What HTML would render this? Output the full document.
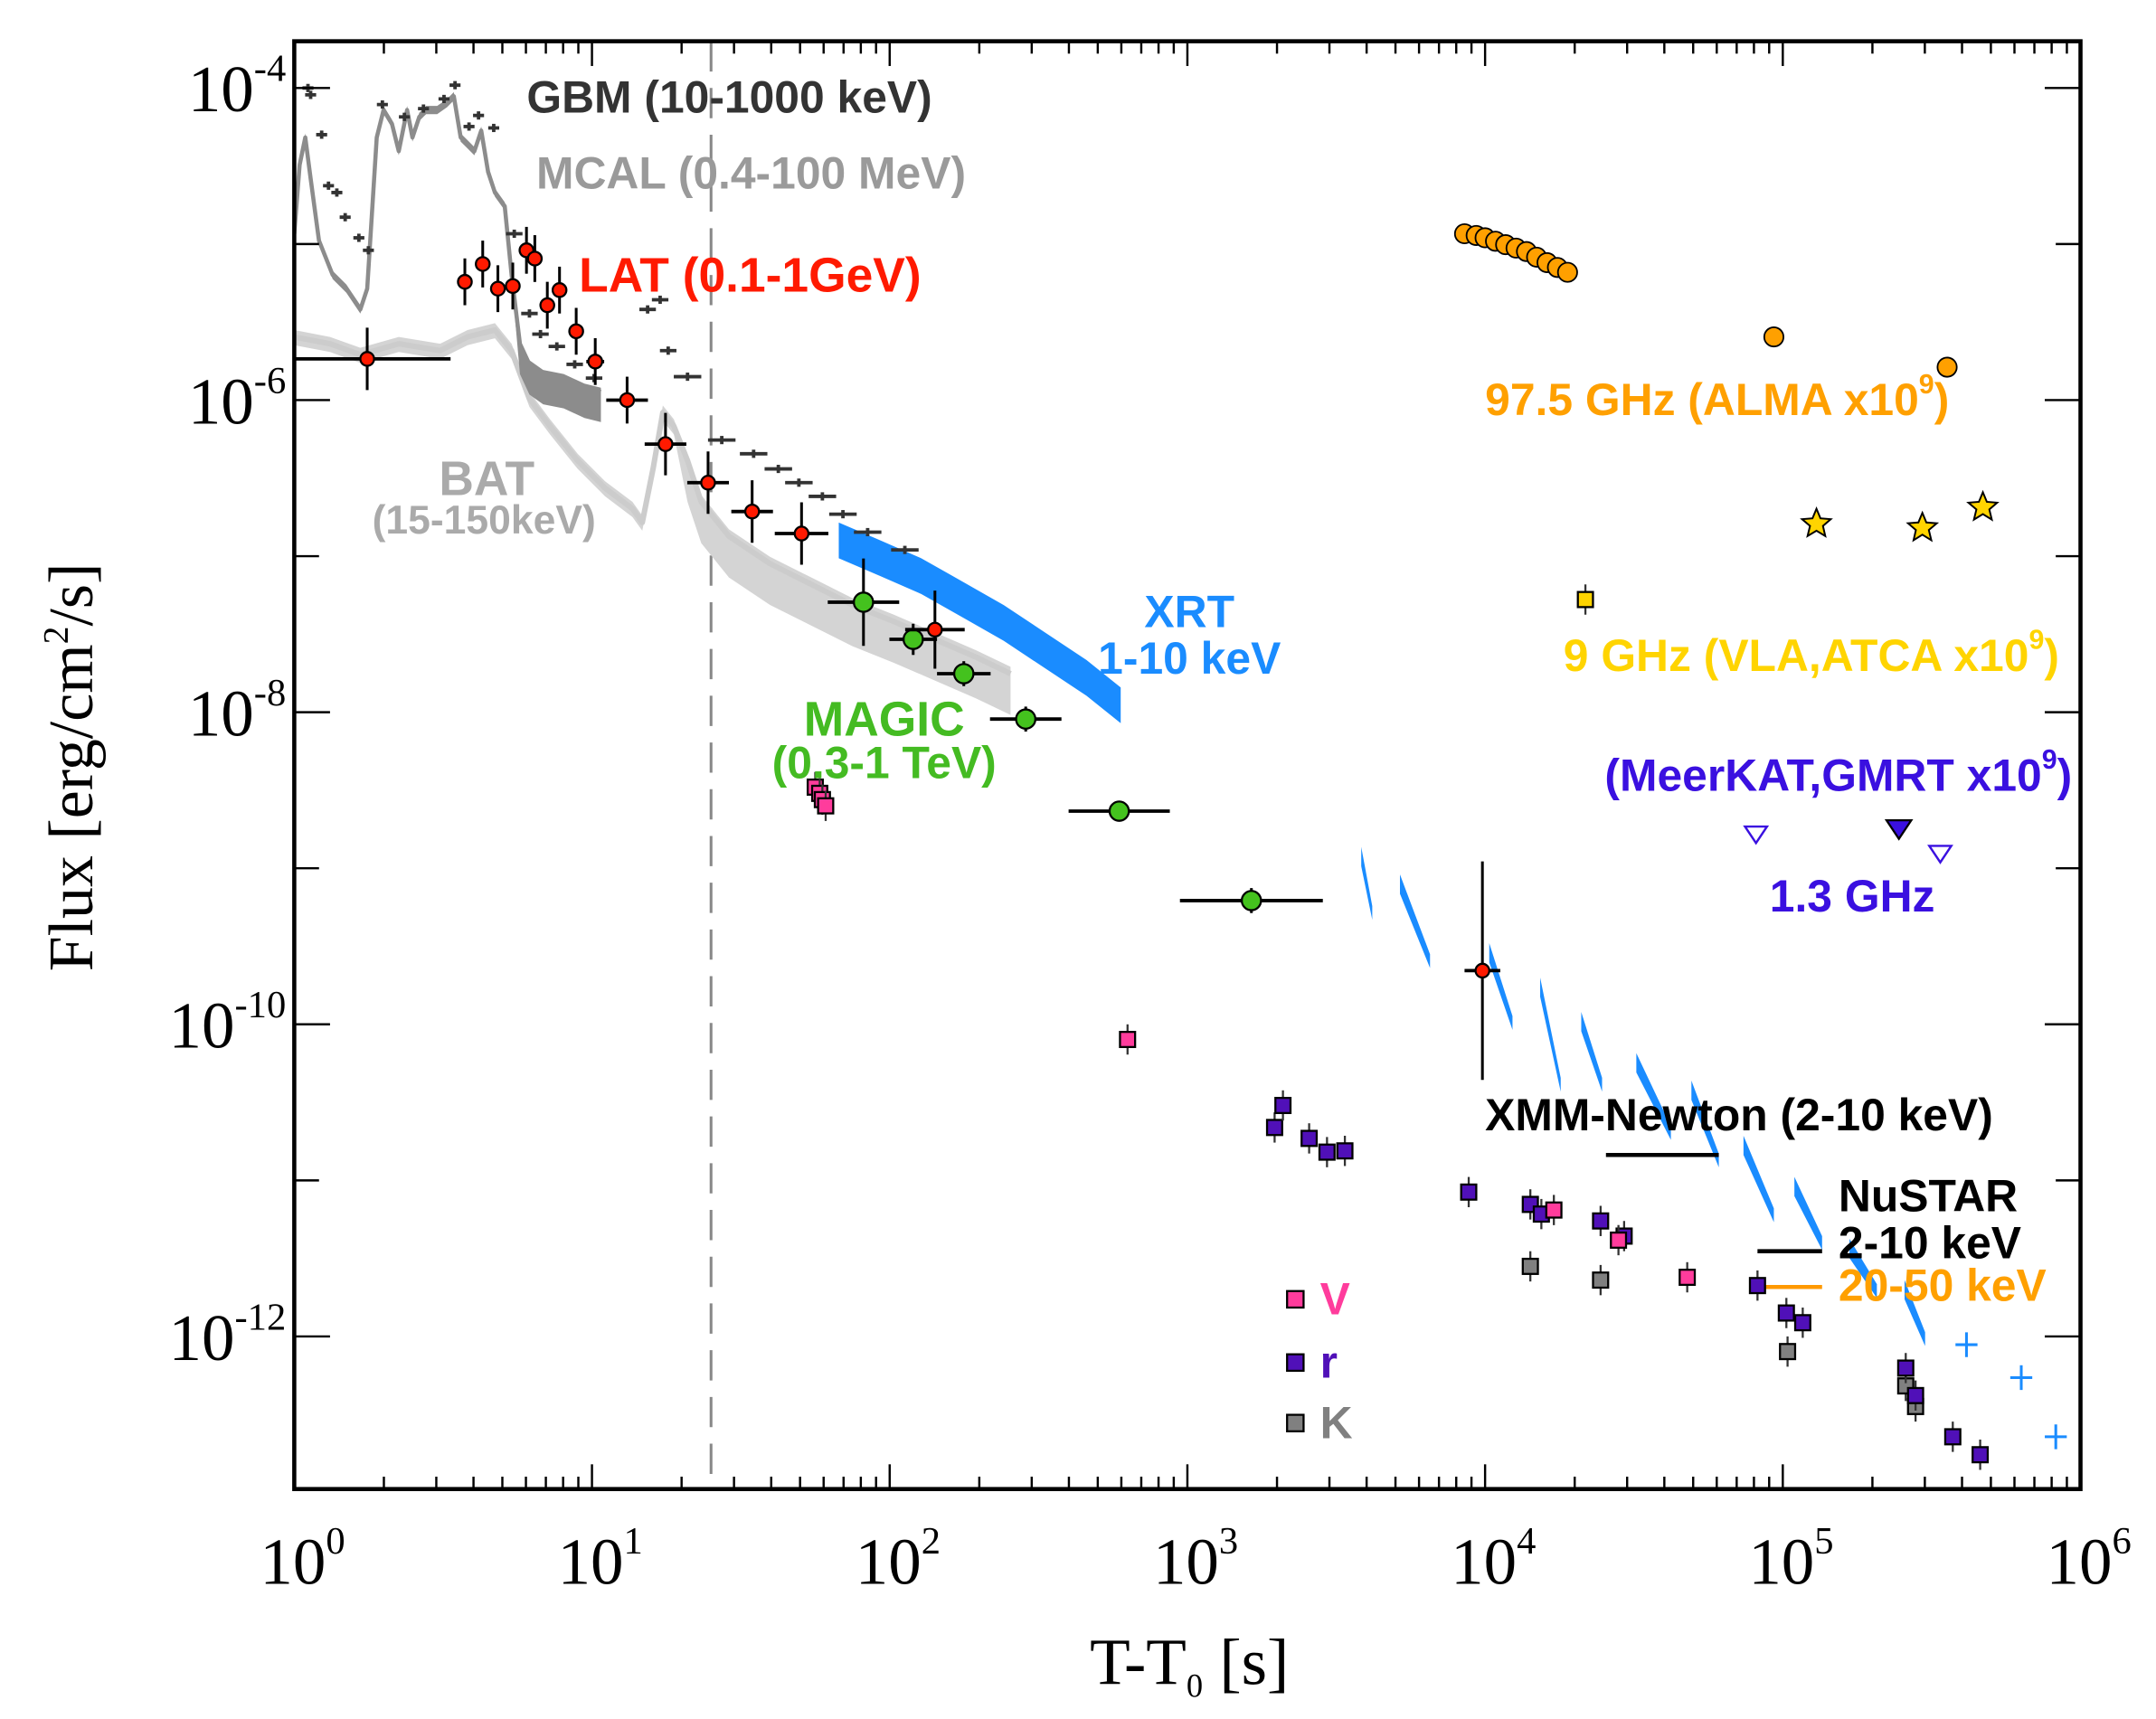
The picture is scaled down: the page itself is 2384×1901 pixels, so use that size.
<!DOCTYPE html>
<html><head><meta charset="utf-8"><style>
html,body{margin:0;padding:0;background:#fff;}
svg{display:block;}
</style></head><body>
<svg id="chart" width="2384" height="1901" viewBox="0 0 2384 1901" xmlns="http://www.w3.org/2000/svg">
<g id="root" transform="scale(1.5205)"></g>
</svg>
<script>
// ---- data (log10 t [s], log10 F [erg/cm2/s]) ----
const latT=[0.245,0.573,0.633,0.684,0.734,0.780,0.808,0.850,0.891,0.947,1.011,1.118,1.247,1.390,1.538,1.704,2.152,3.991];
const latF=[-5.736,-5.242,-5.128,-5.286,-5.269,-5.040,-5.093,-5.392,-5.295,-5.559,-5.753,-6.0,-6.282,-6.529,-6.714,-6.855,-7.471,-9.656];
const latTerr=[0.28,0.02,0.02,0.02,0.02,0.02,0.02,0.02,0.02,0.02,0.03,0.07,0.07,0.07,0.07,0.09,0.1,0.06];
const latFerr=[0.2,0.15,0.15,0.15,0.15,0.15,0.15,0.15,0.15,0.15,0.15,0.15,0.2,0.2,0.2,0.2,0.25,0.7];
const magicT=[1.912,2.079,2.249,2.457,2.771,3.215];
const magicF=[-7.295,-7.533,-7.753,-8.044,-8.634,-9.207];
const magicTerr=[0.12,0.08,0.09,0.12,0.17,0.24];
const magicFerr=[0.28,0.1,0.08,0.08,0.06,0.08];
const gbmT=[0.046,0.055,0.092,0.115,0.143,0.171,0.217,0.249,0.296,0.370,0.434,0.503,0.540,0.587,0.619,0.670,0.739,0.790,0.827,0.882,0.942,1.007,1.187,1.229,1.256,1.321,1.436,1.543,1.626,1.695,1.774,1.843,1.926,2.051];
const gbmF=[-4.0,-4.044,-4.299,-4.626,-4.670,-4.828,-4.960,-5.040,-4.106,-4.185,-4.132,-4.070,-3.982,-4.247,-4.176,-4.256,-4.934,-5.445,-5.577,-5.656,-5.771,-5.859,-5.419,-5.357,-5.683,-5.850,-6.256,-6.344,-6.441,-6.529,-6.617,-6.731,-6.846,-6.960];
const mcalT=[0,0.018,0.037,0.055,0.083,0.129,0.175,0.222,0.245,0.277,0.300,0.328,0.351,0.379,0.397,0.420,0.443,0.480,0.513,0.536,0.559,0.582,0.605,0.628,0.651,0.674,0.707,0.730,0.758,0.790,0.836,0.905,0.975,1.030];
const mcalF=[-4.934,-4.493,-4.317,-4.581,-4.978,-5.198,-5.286,-5.419,-5.286,-4.317,-4.141,-4.229,-4.405,-4.141,-4.317,-4.185,-4.141,-4.141,-4.097,-4.053,-4.317,-4.361,-4.405,-4.273,-4.537,-4.670,-4.758,-5.198,-5.639,-5.771,-5.833,-5.859,-5.921,-5.947];
const batT=[0,0.120,0.222,0.351,0.490,0.582,0.674,0.730,0.790,0.859,0.952,1.044,1.136,1.169,1.206,1.238,1.275,1.321,1.367,1.460,1.598,1.737,1.875,2.014,2.152,2.291,2.406];
const batF=[-5.595,-5.639,-5.709,-5.639,-5.683,-5.595,-5.551,-5.683,-5.991,-6.167,-6.388,-6.564,-6.696,-6.784,-6.432,-6.079,-6.167,-6.388,-6.652,-6.872,-7.048,-7.181,-7.313,-7.419,-7.533,-7.648,-7.753];
const xrtT=[1.829,1.968,2.106,2.245,2.383,2.522,2.661,2.776];
const xrtF=[-6.890,-7.004,-7.119,-7.269,-7.419,-7.595,-7.771,-7.947];
const xrtSegT1=[3.584,3.714,4.014,4.185,4.323,4.508,4.693,4.868,5.039,5.224,5.409];
const xrtSegT2=[3.621,3.815,4.092,4.254,4.393,4.624,4.785,4.970,5.132,5.316,5.478];
const xrtSegF1=[-8.899,-9.075,-9.515,-9.736,-9.956,-10.22,-10.396,-10.749,-11.013,-11.41,-11.674];
const xrtSegF2=[-9.295,-9.604,-10.0,-10.396,-10.396,-10.705,-10.881,-11.233,-11.41,-11.718,-12.026];
const xrtLateT=[5.617,5.801,5.917];
const xrtLateF=[-12.053,-12.264,-12.643];
const vT=[1.750,1.765,1.774,1.785,2.799,4.231,4.448,4.679];
const vF=[-8.48,-8.52,-8.56,-8.60,-10.097,-11.19,-11.383,-11.621];
const rT=[3.293,3.321,3.409,3.469,3.529,3.945,4.152,4.189,4.388,4.467,4.915,5.012,5.067,5.413,5.446,5.571,5.663];
const rF=[-10.661,-10.520,-10.731,-10.819,-10.811,-11.075,-11.154,-11.216,-11.260,-11.357,-11.674,-11.850,-11.912,-12.203,-12.379,-12.643,-12.758];
const kT=[4.152,4.388,5.016,5.413,5.446];
const kF=[-11.551,-11.639,-12.097,-12.317,-12.449];
const almaT=[3.931,3.97,4.0,4.035,4.069,4.104,4.139,4.173,4.208,4.243,4.277,4.970,5.552];
const almaF=[-4.934,-4.945,-4.960,-4.982,-5.004,-5.026,-5.048,-5.084,-5.119,-5.150,-5.181,-5.595,-5.789];
const vlaT=[5.113,5.469,5.672];
const vlaF=[-6.793,-6.819,-6.687];
const atcaT=[4.337];
const atcaF=[-7.278];
const mkOpenT=[4.910,5.529];
const mkOpenF=[-8.775,-8.899];
const mkFillT=[5.390];
const mkFillF=[-8.740];
const xmmT=[4.406,4.785]; const xmmF=[-10.837];
const nuT=[4.915,5.132]; const nuF=[-11.454]; const nuHardF=[-11.683];
const t0Line=[1.4];
const xTicks=[0,1,2,3,4,5,6];
const yTicks=[-4,-6,-8,-10,-12];

// ---- axes (display units, scaled by group transform) ----
const L=214,R=1513,T=30,B=1083;
const X=lt=>L+lt*216.5;
const Y=lf=>64+(-4-lf)*113.5;
const NS='http://www.w3.org/2000/svg';
const root=document.getElementById('root');
function mk(tag,attrs,parent){const e=document.createElementNS(NS,tag);for(const k in attrs)e.setAttribute(k,attrs[k]);(parent||root).appendChild(e);return e;}

const defs=mk('defs',{});
const cp=mk('clipPath',{id:'clip'},defs);
mk('rect',{x:L,y:T,width:R-L,height:B-T},cp);
const plot=mk('g',{'clip-path':'url(#clip)'});



const dl=mk('line',{x1:X(t0Line[0]),x2:X(t0Line[0]),y1:T,y2:B,stroke:'#888','stroke-width':2,'stroke-dasharray':'22,12'},plot);



function poly(ts,fs,color,w,name){
  const p=mk('polyline',{points:ts.map((t,i)=>X(t)+','+Y(fs[i])).join(' '),fill:'none',stroke:color,'stroke-width':w,'stroke-linejoin':'round'},plot);
  
  
  return p;
}
const batBand=mk('polygon',{points:batT.map((t,i)=>X(t)+','+(Y(batF[i])-5)).concat(batT.slice().reverse().map((t,i)=>X(t)+','+(Y(batF[batT.length-1-i])+(batT[batT.length-1-i]>1.3?30:6)))).join(' '),fill:'#d4d4d4'},plot);


poly(batT,batF,'#cccccc',4,'bat-curve');
poly(mcalT,mcalF,'#8c8c8c',3,'mcal-curve');
const mcalBand=mk('polygon',{points:mcalT.map((t,i)=>X(t)+','+(Y(mcalF[i])-3)).concat(mcalT.slice().reverse().map((t,i)=>X(t)+','+(Y(mcalF[mcalT.length-1-i])+(mcalT[mcalT.length-1-i]>0.73?22:3)))).join(' '),fill:'#8c8c8c'},plot);


const xb=mk('polygon',{points:xrtT.map((t,i)=>X(t)+','+(Y(xrtF[i])-12)).concat(xrtT.slice().reverse().map((t,i)=>X(t)+','+(Y(xrtF[xrtT.length-1-i])+14))).join(' '),fill:'#1a8cff'},plot);


for(let i=0;i<xrtSegT1.length;i++){
  const s=mk('polygon',{points:[X(xrtSegT1[i])+','+(Y(xrtSegF1[i])-4),X(xrtSegT2[i])+','+(Y(xrtSegF2[i])-6),X(xrtSegT2[i])+','+(Y(xrtSegF2[i])+4),X(xrtSegT1[i])+','+(Y(xrtSegF1[i])+10)].join(' '),fill:'#1a8cff'},plot);
  
  
}
for(let i=0;i<xrtLateT.length;i++){
  const g=mk('g',{stroke:'#1a8cff','stroke-width':2},plot);
  
  
  mk('line',{x1:X(xrtLateT[i])-8,x2:X(xrtLateT[i])+8,y1:Y(xrtLateF[i]),y2:Y(xrtLateF[i])},g);
  mk('line',{x1:X(xrtLateT[i]),x2:X(xrtLateT[i]),y1:Y(xrtLateF[i])-9,y2:Y(xrtLateF[i])+9},g);
}
for(let i=0;i<gbmT.length;i++){
  const g=mk('g',{stroke:'#333','stroke-width':2.5},plot);
  
  
  const w=gbmT[i]>1.3?10:(gbmT[i]>0.7?6:4);
  mk('line',{x1:X(gbmT[i])-w,x2:X(gbmT[i])+w,y1:Y(gbmF[i]),y2:Y(gbmF[i])},g);
  mk('line',{x1:X(gbmT[i]),x2:X(gbmT[i]),y1:Y(gbmF[i])-3,y2:Y(gbmF[i])+3},g);
}
function hseg(ts,f,color,name){const l=mk('line',{x1:X(ts[0]),x2:X(ts[1]),y1:Y(f),y2:Y(f),stroke:color,'stroke-width':3},plot);}
hseg(xmmT,xmmF[0],'#000','xmm-newton-segment');
hseg(nuT,nuF[0],'#000','nustar-soft-segment');
hseg(nuT,nuHardF[0],'#ff9900','nustar-hard-segment');

function errPts(ts,fs,te,fe,r,fill,name){
  for(let i=0;i<ts.length;i++){
    const g=mk('g',{},plot);
    
    
    mk('line',{x1:X(ts[i]-te[i]),x2:X(ts[i]+te[i]),y1:Y(fs[i]),y2:Y(fs[i]),stroke:'#000','stroke-width':2.5},g);
    mk('line',{x1:X(ts[i]),x2:X(ts[i]),y1:Y(fs[i]+fe[i]),y2:Y(fs[i]-fe[i]),stroke:'#000','stroke-width':2},g);
    mk('circle',{cx:X(ts[i]),cy:Y(fs[i]),r:r,fill:fill,stroke:'#000','stroke-width':1.5},g);
  }
}
errPts(magicT,magicF,magicTerr,magicFerr,7,'#44c21e','magic-point');
errPts(latT,latF,latTerr,latFerr,5,'#ff1a00','lat-point');

function squares(ts,fs,fill,name,s){
  for(let i=0;i<ts.length;i++){
    const g=mk('g',{},plot);
    
    
    mk('line',{x1:X(ts[i]),x2:X(ts[i]),y1:Y(fs[i])-11,y2:Y(fs[i])+11,stroke:'#333','stroke-width':1.5},g);
    mk('rect',{x:X(ts[i])-s/2,y:Y(fs[i])-s/2,width:s,height:s,fill:fill,stroke:'#000','stroke-width':1.5},g);
  }
}
squares(kT,kF,'#808080','k-band-point',11);
squares(rT,rF,'#5010b8','r-band-point',11);
squares(vT,vF,'#ff3c9c','v-band-point',11);
squares(atcaT,atcaF,'#ffd400','atca-9ghz-point',11);
for(let i=0;i<almaT.length;i++){
  const c=mk('circle',{cx:X(almaT[i]),cy:Y(almaF[i]),r:7,fill:'#ffa000',stroke:'#000','stroke-width':1.2},plot);
  
  
}
function star(cx,cy,r){let p=[];for(let k=0;k<10;k++){const a=-Math.PI/2+k*Math.PI/5;const rr=k%2?r*0.45:r;p.push((cx+rr*Math.cos(a)).toFixed(1)+','+(cy+rr*Math.sin(a)).toFixed(1));}return p.join(' ');}
for(let i=0;i<vlaT.length;i++){
  const s=mk('polygon',{points:star(X(vlaT[i]),Y(vlaF[i]),11),fill:'#ffd400',stroke:'#000','stroke-width':1.3},plot);
  
  
}
function tri(cx,cy,s){return (cx-s)+','+(cy-s*0.6)+' '+(cx+s)+','+(cy-s*0.6)+' '+cx+','+(cy+s*0.9);}
for(let i=0;i<mkOpenT.length;i++){
  const s=mk('polygon',{points:tri(X(mkOpenT[i]),Y(mkOpenF[i]),8),fill:'#fff',stroke:'#3a10e0','stroke-width':1.6},plot);
  
  
}
for(let i=0;i<mkFillT.length;i++){
  const s=mk('polygon',{points:tri(X(mkFillT[i]),Y(mkFillF[i]),9),fill:'#3a10e0',stroke:'#000','stroke-width':1.5},plot);
  
  
}

// ---- frame & ticks ----
const ax=mk('g',{stroke:'#000','stroke-width':1.6});


for(let d=0;d<6;d++){for(let m=2;m<10;m++){const x=X(d+Math.log10(m));
  mk('line',{x1:x,x2:x,y1:B,y2:B-9},ax);mk('line',{x1:x,x2:x,y1:T,y2:T+9},ax);}}
for(const d of xTicks){const x=X(d);mk('line',{x1:x,x2:x,y1:B,y2:B-18},ax);mk('line',{x1:x,x2:x,y1:T,y2:T+18},ax);}
for(let e=-12;e<=-4;e++){const y=Y(e);const len=(e%2===0)?26:18;
  mk('line',{x1:L,x2:L+len,y1:y,y2:y},ax);mk('line',{x1:R,x2:R-len,y1:y,y2:y},ax);}
mk('rect',{x:L,y:T,width:R-L,height:B-T,fill:'none','stroke-width':3},ax);

const serif='"Liberation Serif", serif', sans='"Liberation Sans", sans-serif';
function tickLabel(x,y,exp,anchorEnd,name){
  const t=mk('text',{x:x,y:y,'font-family':serif,'font-size':48,fill:'#000','text-anchor':anchorEnd?'end':'middle'});
  
  
  t.innerHTML='10<tspan dy="-22" font-size="28">'+exp+'</tspan>';
}
for(const d of xTicks)tickLabel(X(d)+6,1152,String(d),false,'x-tick-label');
for(const e of yTicks)tickLabel(208,Y(e)+17,String(e),true,'y-tick-label');

const K=1.17;
function label(x,y,txt,color,size,name,anchor){
  const t=mk('text',{x:x,y:y,'font-family':sans,'font-weight':'bold','font-size':size*K,fill:color,'text-anchor':anchor||'start'});
  
  
  t.innerHTML=txt;return t;
}
label(383,82,'GBM (10-1000 keV)','#333',28,'gbm-label');
label(390,137,'MCAL (0.4-100 MeV)','#9a9a9a',28,'mcal-label');
label(421,212,'LAT (0.1-1GeV)','#ff1a00',30,'lat-label');
label(354,360,'BAT','#aaaaaa',30,'bat-label','middle');
label(352,388,'(15-150keV)','#aaaaaa',25,'bat-band-label','middle');
label(865,456,'XRT','#1a8cff',28,'xrt-label','middle');
label(865,490,'1-10 keV','#1a8cff',28,'xrt-band-label','middle');
label(643,535,'MAGIC','#44bb22',30,'magic-label','middle');
label(643,566,'(0.3-1 TeV)','#44bb22',28,'magic-band-label','middle');
label(1080,302,'97.5 GHz (ALMA x10<tspan dy="-16" font-size="20">9</tspan><tspan dy="16">)</tspan>','#ffa000',28,'alma-label');
label(1137,488,'9 GHz (VLA,ATCA x10<tspan dy="-16" font-size="20">9</tspan><tspan dy="16">)</tspan>','#ffd400',28,'vla-label');
label(1167,575,'(MeerKAT,GMRT x10<tspan dy="-16" font-size="20">9</tspan><tspan dy="16">)</tspan>','#3a10e0',28,'meerkat-label');
label(1347,663,'1.3 GHz','#3a10e0',28,'radio-1p3ghz-label','middle');
label(1080,822,'XMM-Newton (2-10 keV)','#000',28,'xmm-label');
label(1337,881,'NuSTAR','#000',28,'nustar-label');
label(1337,915,'2-10 keV','#000',28,'nustar-soft-label');
label(1337,946,'20-50 keV','#ffa000',28,'nustar-hard-label');
const lg=[['V','#ff3c9c',945],['r','#5010b8',991],['K','#808080',1035]];
for(const [s,c,y] of lg){
  const r=mk('rect',{x:936,y:y-6,width:12,height:12,fill:c,stroke:'#000','stroke-width':1.5});
  
  
  label(960,y+11,s,c,28,'legend-entry-'+s.toLowerCase());
}
const xt=mk('text',{x:865,y:1225,'font-family':serif,'font-size':48,'text-anchor':'middle',fill:'#000'});


xt.innerHTML='T-T<tspan dy="9" font-size="24">0</tspan><tspan dy="-9"> [s]</tspan>';
const yt=mk('text',{x:0,y:0,'font-family':serif,'font-size':46,'text-anchor':'middle',fill:'#000',transform:'translate(67,558) rotate(-90)'});


yt.innerHTML='Flux [erg/cm<tspan dy="-18" font-size="26">2</tspan><tspan dy="18">/s]</tspan>';
</script>
</body></html>
